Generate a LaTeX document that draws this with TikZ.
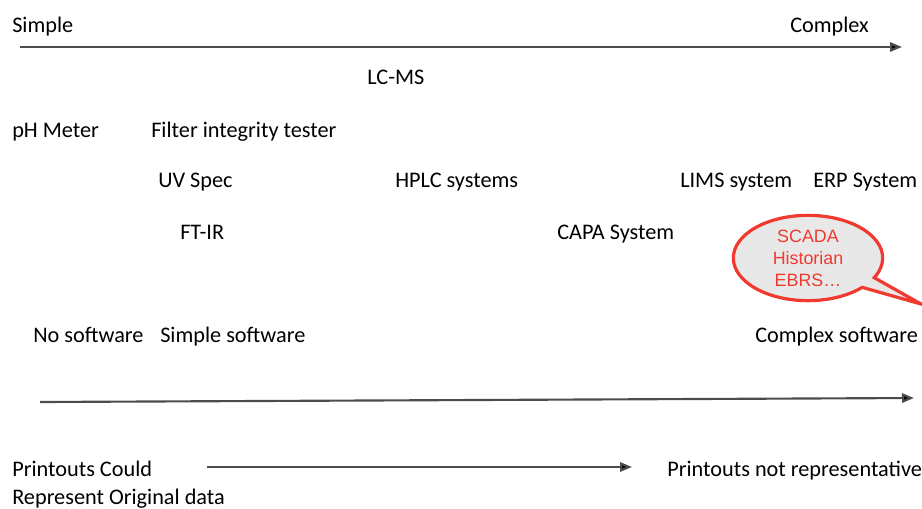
\documentclass[tikz,border=0pt]{standalone}
\usepackage{fontspec}
\setmainfont{Carlito}
\newfontfamily\calloutfont{Liberation Sans}
\usetikzlibrary{arrows.meta,shapes.callouts}

\tikzset{
  lbl/.style={anchor=base west, inner sep=0pt, font=\fontsize{16.7}{20}\selectfont},
  scale arrow/.style={draw=black!70, line width=1.6pt, -{Triangle[length=9pt,width=7pt,fill=black]}},
  bubble/.style={ellipse callout, draw={rgb,255:red,240;green,58;blue,48}, line width=2.4pt,
    fill={rgb,255:red,232;green,232;blue,232}, text={rgb,255:red,240;green,58;blue,48},
    font=\calloutfont\fontsize{13.4}{16.5}\selectfont, align=center, inner sep=0pt,
    minimum width=112pt, minimum height=64pt, callout pointer arc=16}
}

\begin{document}
\begin{tikzpicture}[x=0.75pt,y=0.75pt,yscale=-1,xscale=1]
\useasboundingbox (0,0) rectangle (922,508);

% Top scale
\node [lbl] (simple) at (12,32) {Simple};
\node [lbl] (complex) at (790,32) {Complex};
\coordinate (topL) at (20,47);
\coordinate (topR) at (902,47);
\draw [scale arrow] (topL) -- (topR);

% Systems
\node [lbl] (lcms) at (367,84) {LC-MS};
\node [lbl] (ph) at (12,137) {pH Meter};
\node [lbl] (filter) at (151,137) {Filter integrity tester};
\node [lbl] (uv) at (158,187) {UV Spec};
\node [lbl] (hplc) at (395,187) {HPLC systems};
\node [lbl] (lims) at (680,187) {LIMS system};
\node [lbl] (erp) at (813,187) {ERP System};
\node [lbl] (ftir) at (180,239) {FT-IR};
\node [lbl] (capa) at (557,239) {CAPA System};

% Callout
\node [bubble, callout absolute pointer={(921,304)}] (scada) at (808,258) {SCADA\\Historian\\EBRS\dots};

% Software scale
\node [lbl] (nosw) at (33,342) {No software};
\node [lbl] (simplesw) at (160,342) {Simple software};
\node [lbl] (complexsw) at (755,342) {Complex software};
\coordinate (midL) at (40,402);
\coordinate (midR) at (914,398);
\draw [scale arrow] (midL) -- (midR);

% Printouts
\node [lbl] (could) at (12,476) {Printouts Could};
\node [lbl] (orig) at (12,504) {Represent Original data};
\node [lbl] (notrep) at (667,476) {Printouts not representative};
\coordinate (prtL) at (207,467);
\coordinate (prtR) at (632,467);
\draw [scale arrow] (prtL) -- (prtR);

\end{tikzpicture}
\end{document}
